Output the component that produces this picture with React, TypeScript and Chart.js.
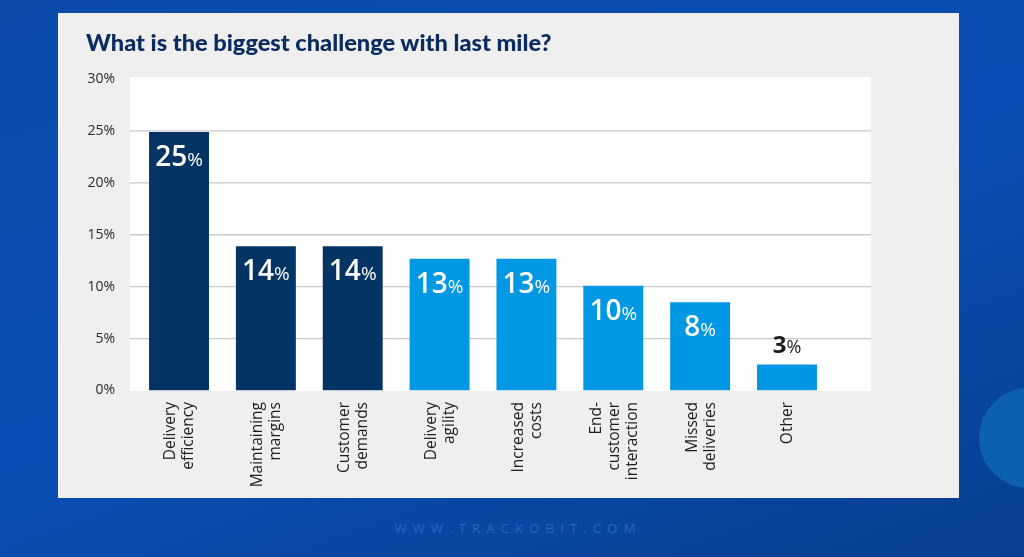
import React, { useEffect, useRef } from "react";
import { Chart, registerables } from "chart.js";

Chart.register(...registerables);

const categories: string[][] = [
  ["Delivery", "efficiency"],
  ["Maintaining", "margins"],
  ["Customer", "demands"],
  ["Delivery", "agility"],
  ["Increased", "costs"],
  ["End-", "customer", "interaction"],
  ["Missed", "deliveries"],
  ["Other"],
];
const values: number[] = [24.9, 13.9, 13.9, 12.7, 12.7, 10.1, 8.5, 2.5];
const valueLabels: string[] = ["25", "14", "14", "13", "13", "10", "8", "3"];
const barColors: string[] = ["#033463", "#033463", "#033463", "#0097e4", "#0097e4", "#0097e4", "#0097e4", "#0097e4"];
const yTicks: number[] = [0, 5, 10, 15, 20, 25, 30];
const gridValues: number[] = [5, 10, 15, 20, 25];
const title = "What is the biggest challenge with last mile?";
const watermark = "WWW.TRACKOBIT.COM";

const CW = 901;
const CH = 485;

const plotBgPlugin = {
  id: "plotBg",
  beforeDatasetsDraw(chart: any) {
    const { ctx, chartArea, scales } = chart;
    const left = chartArea.left - 5.6;
    const right = chartArea.right + 40.6;
    ctx.save();
    ctx.fillStyle = "#ffffff";
    ctx.fillRect(left, chartArea.top - 2, right - left, chartArea.bottom - chartArea.top + 2.5);
    ctx.strokeStyle = "#c9c9c9";
    ctx.lineWidth = 1.4;
    for (const v of gridValues) {
      const y = scales.y.getPixelForValue(v);
      ctx.beginPath();
      ctx.moveTo(left, y);
      ctx.lineTo(right, y);
      ctx.stroke();
    }
    ctx.restore();
  },
};

const labelsPlugin = {
  id: "valueLabels",
  afterDatasetsDraw(chart: any) {
    const { ctx } = chart;
    const meta = chart.getDatasetMeta(0);
    ctx.save();
    meta.data.forEach((bar: any, i: number) => {
      const inside = values[i] >= 5;
      const numFont = inside ? "600 28px 'Open Sans'" : "700 24px 'Open Sans'";
      const pctFont = inside ? "500 19px 'Open Sans'" : "500 18px 'Open Sans'";
      ctx.font = numFont;
      const nw = ctx.measureText(valueLabels[i]).width;
      ctx.font = pctFont;
      const pw = ctx.measureText("%").width;
      const total = nw + pw;
      const x0 = bar.x - total / 2;
      const baseY = inside ? bar.y + 34 : bar.y - 12;
      ctx.fillStyle = inside ? "#ffffff" : "#1a1a1a";
      ctx.textBaseline = "alphabetic";
      ctx.textAlign = "left";
      ctx.font = numFont;
      ctx.fillText(valueLabels[i], x0, baseY);
      ctx.font = pctFont;
      ctx.fillText("%", x0 + nw, baseY);
    });
    ctx.restore();
  },
};

const xLabelsPlugin = {
  id: "xLabels",
  afterDraw(chart: any) {
    const { ctx, chartArea, scales } = chart;
    const lh = 18;
    ctx.save();
    ctx.font = "15.5px 'Open Sans'";
    ctx.fillStyle = "#1e1e1e";
    ctx.textAlign = "right";
    ctx.textBaseline = "middle";
    categories.forEach((lines, i) => {
      const cx = scales.x.getPixelForValue(i) + 1;
      const n = lines.length;
      lines.forEach((line, j) => {
        const x = cx + (j - (n - 1) / 2) * lh;
        const y = chartArea.bottom + 11.5;
        ctx.save();
        ctx.translate(x, y);
        ctx.rotate(-Math.PI / 2);
        ctx.fillText(line, 0, 0);
        ctx.restore();
      });
    });
    ctx.restore();
  },
};

function BarChart() {
  const ref = useRef<HTMLCanvasElement | null>(null);
  useEffect(() => {
    if (!ref.current) return;
    const chart = new Chart(ref.current, {
      type: "bar",
      data: {
        labels: categories.map((c) => c.join(" ")),
        datasets: [
          {
            data: values,
            backgroundColor: barColors,
            borderWidth: 0,
            barPercentage: 0.69,
            categoryPercentage: 1,
          },
        ],
      },
      options: {
        animation: false,
        responsive: false,
        devicePixelRatio: 1,
        layout: { padding: { left: 0, right: CW - 772.4, top: 66, bottom: 0 } },
        plugins: {
          legend: { display: false },
          tooltip: { enabled: false },
          title: { display: false },
        },
        scales: {
          x: {
            grid: { display: false },
            border: { display: false },
            ticks: { display: false },
            afterFit(scale: any) {
              scale.height = CH - 377.5;
            },
          },
          y: {
            min: 0,
            max: 30,
            afterBuildTicks(scale: any) {
              scale.ticks = yTicks.map((v) => ({ value: v }));
            },
            grid: { display: false },
            border: { display: false },
            ticks: {
              padding: 12.6,
              color: "#2a2a2a",
              font: { family: "'Open Sans'", size: 14 },
              callback: (v: any) => v + "%",
            },
            afterFit(scale: any) {
              scale.width = 77.6;
            },
          },
        },
      },
      plugins: [plotBgPlugin, labelsPlugin, xLabelsPlugin],
    });
    return () => chart.destroy();
  }, []);
  return (
    <canvas
      ref={ref}
      width={CW}
      height={CH}
      style={{ position: "absolute", left: 0, top: 0, width: CW, height: CH }}
    />
  );
}

export default function App() {
  return (
    <div
      style={{
        position: "fixed",
        left: 0,
        top: 0,
        width: 1024,
        height: 557,
        overflow: "hidden",
        background: "linear-gradient(160deg, #0b4aa9 0%, #0a4eb5 50%, #073f90 100%)",
      }}
    >
      <div
        style={{
          position: "absolute",
          left: 979,
          top: 388,
          width: 100,
          height: 100,
          borderRadius: "50%",
          background: "#0d5fb1",
        }}
      />
      <div
        style={{
          position: "absolute",
          left: 58,
          top: 13,
          width: CW,
          height: CH,
          background: "#efefef",
        }}
      >
        <BarChart />
        <div
          style={{
            position: "absolute",
            left: 28,
            top: 17.5,
            fontFamily: "Lato, 'Open Sans', sans-serif",
            fontWeight: 900,
            fontSize: 23.6,
            lineHeight: "23.6px",
            color: "#0a2c60",
            whiteSpace: "nowrap",
          }}
        >
          {title}
        </div>
      </div>
      <div
        style={{
          position: "absolute",
          left: 0,
          width: 1024,
          top: 519,
          textAlign: "center",
          fontFamily: "'Open Sans', sans-serif",
          fontSize: 13,
          letterSpacing: 6.2,
          color: "#2a64c6",
          paddingLeft: 6,
        }}
      >
        {watermark}
      </div>
    </div>
  );
}
